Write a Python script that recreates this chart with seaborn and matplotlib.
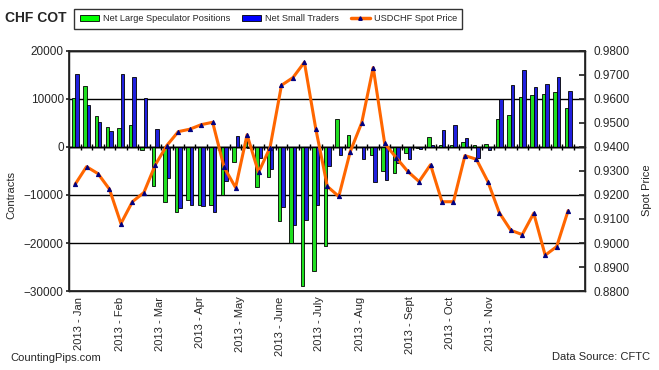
"""
CHF COT chart: net speculator positions vs USDCHF spot price, weekly 2013
"""

# ── Imports ──────────────────────────────────────────────────────────
import numpy as np
import pandas as pd
import matplotlib
matplotlib.use("Agg")
import matplotlib.pyplot as plt
from matplotlib.patches import Patch
from matplotlib.lines import Line2D
from matplotlib.ticker import FormatStrFormatter
import seaborn as sns

# ── Data ─────────────────────────────────────────────────────────────
large_spec = [10200, 12700, 6460, 4170, 3960, 4580, -600, -8200, -11460, -13540,
              -11040, -12080, -12080, -10000, -3125, 1250, -8330, -6250, -15490, -20000,
              -28960, -25830, -20630, 5830, 2500, 0, -1670, -5000, -5420, -1250,
              -200, 2080, 400, 400, 1040, 400, 625, 5830, 6670, 10420,
              10830, 11040, 11460, 8125]

small_traders = [15200, 8750, 5200, 3330, 15200, 14600, 10200, 3750, -6460, -12780,
                 -12080, -12290, -13540, -7080, 2290, -200, -2290, -4580, -12500, -16250,
                 -15210, -12080, -3960, -1670, 0, -2500, -7290, -6875, -3330, -2500,
                 -400, 400, 3610, 4580, 1875, -2290, -625, 10000, 12920, 16040,
                 12500, 13125, 14580, 11670]

usdchf = [0.9244, 0.9318, 0.9289, 0.9224, 0.9081, 0.9172, 0.9210, 0.9326, 0.9406, 0.9464,
          0.9474, 0.9493, 0.9503, 0.9315, 0.9231, 0.9451, 0.9294, 0.9397, 0.9657, 0.9689,
          0.9753, 0.9474, 0.9236, 0.9194, 0.9381, 0.9501, 0.9731, 0.9415, 0.9356, 0.9299,
          0.9256, 0.9326, 0.9172, 0.9172, 0.9364, 0.9349, 0.9256, 0.9126, 0.9053, 0.9035,
          0.9124, 0.8949, 0.8985, 0.9135]

month_labels = ["2013 - Jan", "2013 - Feb", "2013 - Mar", "2013 - Apr", "2013 - May",
                "2013 - June", "2013 - July", "2013 - Aug", "2013 - Sept", "2013 - Oct",
                "2013 - Nov"]

series_names = ["Net Large Speculator Positions", "Net Small Traders"]

# label positions along the week axis (layout, not data)
month_pos = [0.35, 3.88, 7.37, 10.87, 14.39, 17.85, 21.3, 24.82, 29.18, 32.67, 36.21]

# ── Styling ──────────────────────────────────────────────────────────
sns.set_theme(style="white")
plt.rcParams["font.family"] = ["Liberation Sans", "DejaVu Sans"]

GREEN = "#00FF00"
BLUE = "#0000FF"
ORANGE = "#FF6600"
NAVY = "#000080"

n = len(usdchf)
weeks = np.arange(n)

df = pd.DataFrame({
    "week": np.tile(weeks, 2),
    "value": np.concatenate([large_spec, small_traders]),
    "series": np.repeat(series_names, n),
})

# ── Figure ───────────────────────────────────────────────────────────
fig = plt.figure(figsize=(6.59, 3.70), dpi=100)
ax = fig.add_axes([0.1052, 0.2135, 0.7830, 0.6487])

sns.barplot(data=df, x="week", y="value", hue="series", order=list(weeks),
            hue_order=series_names, palette=[GREEN, BLUE], width=0.6,
            edgecolor="black", linewidth=0.6, legend=False, ax=ax)

ax.set_xlim(-0.5, n + 0.5)
ax.set_ylim(-30000, 20000)
ax.set_yticks(range(-30000, 20001, 10000))
ax.yaxis.grid(True, color="black", lw=1)
ax.set_axisbelow(True)
ax.set_xlabel("")
ax.set_ylabel("")
ax.set_xticks(month_pos)
ax.set_xticklabels(month_labels, rotation=90, fontsize=8)
ax.tick_params(axis="x", length=0, pad=4)
ax.tick_params(axis="y", direction="out", length=2, labelsize=8.5, left=True, pad=2)
for sp in ax.spines.values():
    sp.set_color("black")
    sp.set_linewidth(1)

# zero line with week separators
ax.axhline(0, color="black", lw=1, zorder=1.5)
sec = ax.secondary_xaxis(0.6)
sec.set_xticks(np.arange(0.5, n, 1.0))
sec.tick_params(direction="inout", length=5, width=1, color="black",
                labeltop=False, labelbottom=False)
for sp in sec.spines.values():
    sp.set_linewidth(1)
    sp.set_color("black")

# ── Spot price on right axis ─────────────────────────────────────────
ax2 = ax.twinx()
sns.lineplot(x=weeks, y=usdchf, ax=ax2, color=ORANGE, lw=2.2, marker="^",
             markersize=3, markerfacecolor=NAVY, markeredgecolor=NAVY)
ax2.set_ylim(0.88, 0.98)
ax2.set_yticks(np.arange(0.88, 0.9801, 0.01))
ax2.yaxis.set_major_formatter(FormatStrFormatter("%.4f"))
ax2.tick_params(axis="y", direction="in", length=4, labelsize=8.5, right=True, pad=6)
ax2.set_ylabel("")
ax2.grid(False)
ax2.set_xlim(-0.5, n + 0.5)

# ── Texts ────────────────────────────────────────────────────────────
fig.text(0.008, 0.950, "CHF COT", fontsize=10, fontweight="bold", va="center")
fig.text(0.017, 0.473, "Contracts", rotation=90, fontsize=8, va="center", ha="center")
fig.text(0.982, 0.487, "Spot Price", rotation=90, fontsize=8, va="center", ha="center")
fig.text(0.016, 0.032, "CountingPips.com", fontsize=8, va="center")
fig.text(0.986, 0.035, "Data Source: CFTC", fontsize=8, va="center", ha="right")

handles = [
    Patch(facecolor=GREEN, edgecolor="black", lw=0.6),
    Patch(facecolor=BLUE, edgecolor="black", lw=0.6),
    Line2D([], [], color=ORANGE, lw=2.5, marker="^", markersize=2.5,
           markerfacecolor=NAVY, markeredgecolor=NAVY),
]
leg = fig.legend(handles, series_names + ["USDCHF Spot Price"], ncol=3,
                 loc="center", bbox_to_anchor=(0.4074, 0.9495), fontsize=6.6,
                 frameon=True, fancybox=False, edgecolor="black",
                 handlelength=2.1, handleheight=0.7, handletextpad=0.4,
                 columnspacing=1.3, borderpad=0.6, borderaxespad=0)
leg.get_frame().set_linewidth(1)

fig.savefig("out.png", dpi=100)
